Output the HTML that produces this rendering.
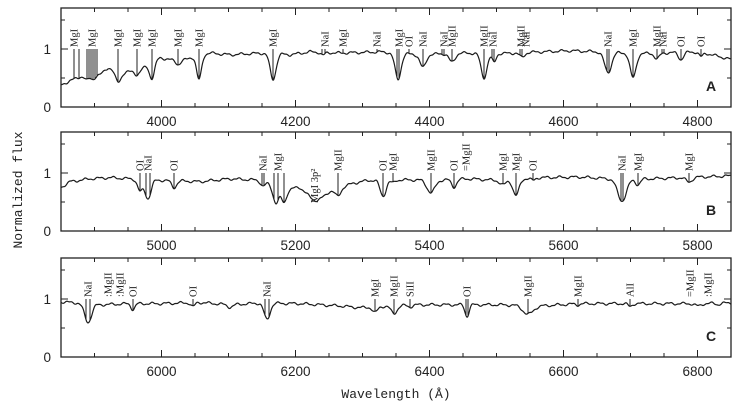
<!DOCTYPE html>
<html><head><meta charset="utf-8"><style>
html,body{margin:0;padding:0;background:#fff;}
svg{display:block;}
.t{font-family:"Liberation Sans",sans-serif;font-size:13.5px;fill:#222;}
.l{font-family:"Liberation Serif",serif;font-size:10.5px;fill:#222;}
</style></head><body>
<svg id="s" width="740" height="407" viewBox="0 0 740 407" xmlns="http://www.w3.org/2000/svg">
<text class="t" x="0" y="0" transform="translate(22,190) rotate(-90)" text-anchor="middle" style="font-family:'Liberation Mono',monospace;font-size:13px">Normalized flux</text>
<text class="t" x="396" y="398" text-anchor="middle" style="font-family:'Liberation Mono',monospace;font-size:13px">Wavelength (Å)</text>
</svg>
<script>
const S=document.getElementById('s');const NS='http://www.w3.org/2000/svg';
function el(n,a,t){const e=document.createElementNS(NS,n);for(const k in a)e.setAttribute(k,a[k]);if(t!==undefined)e.textContent=t;S.appendChild(e);return e;}
const X0=61,X1=731,U=58;
const panels=[
{y0:107,start:3850,name:'A',
cont:[[61,0.38],[70,0.45],[80,0.52],[100,0.55],[108,0.68],[125,0.6],[140,0.62],[147,0.72],[160,0.85],[180,0.78],[195,0.88],[210,0.93],[230,0.9],[250,0.92],[270,0.93],[290,0.9],[310,0.95],[340,0.93],[380,0.95],[420,0.9],[460,0.93],[500,0.92],[540,0.95],[570,0.97],[600,0.95],[640,0.92],[700,0.95],[731,0.82]],
dips:[[87,0.07,2],[93,0.06,2],[118,0.2,3],[137,0.06,2],[152,0.28,2.5],[178,0.05,2],[199,0.42,2.5],[273,0.45,3],[323,0.05,2],[398,0.45,3],[423,0.22,3],[452,0.15,3],[484,0.42,3],[494,0.15,2],[522,0.08,2.5],[608,0.35,3.5],[633,0.42,3],[657,0.1,2.5],[681,0.12,2.5],[701,0.08,2]],
labels:[[74,'MgI',[74,79]],[92,'MgI',[87,89,91,93,95,97]],[118,'MgI',[118]],[137,'MgI',[137]],[152,'MgI',[152]],[178,'MgI',[178]],[199,'MgI',[199]],[273,'MgI',[273]],[325,'NaI',[322,325]],[343,'MgI',[343]],[377,'NaI',[377]],[399,'MgI',[397,399]],[409,'OI',[409]],[423,'NaI',[423]],[444,'NaI',[442,444]],[452,'MgII',[452]],[484,'MgII',[484]],[493,'NaI',[492,494]],[521,'MgII',[520,522]],[526,'NaI',[]],[608,'NaI',[607,609]],[633,'MgI',[633]],[657,'MgII',[657]],[663,'NaI',[662,664]],[681,'OI',[681]],[701,'OI',[701]]]},
{y0:231,start:4850,name:'B',
cont:[[61,0.75],[70,0.85],[90,0.9],[110,0.92],[130,0.9],[150,0.88],[170,0.87],[200,0.85],[230,0.9],[255,0.88],[268,0.82],[290,0.72],[300,0.78],[325,0.7],[345,0.78],[360,0.85],[375,0.88],[400,0.88],[440,0.88],[470,0.9],[500,0.87],[540,0.92],[580,0.93],[610,0.9],[650,0.9],[700,0.93],[731,0.95]],
dips:[[140,0.2,2.5],[148,0.32,3],[174,0.12,2.5],[263,0.07,2],[276,0.3,3],[284,0.25,2.5],[315,0.2,8],[338,0.15,3],[383,0.28,3],[393,0.05,2],[431,0.22,4],[454,0.13,2.5],[503,0.08,3],[516,0.28,3],[533,0.04,2],[622,0.38,4.5],[638,0.1,2.5],[689,0.08,3]],
labels:[[140,'OI',[140]],[148,'NaI',[146,150]],[174,'OI',[174]],[263,'NaI',[262,264]],[278,'MgI',[274,278,284]],[338,'MgII',[338]],[383,'OI',[383]],[393,'MgI',[393]],[431,'MgII',[431]],[454,'OI',[454]],[466,'=MgII',[]],[503,'MgI',[503]],[516,'MgI',[516]],[533,'OI',[533]],[622,'NaI',[621,623]],[638,'MgI',[638]],[689,'MgI',[689]]]},
{y0:357,start:5850,name:'C',
cont:[[61,0.95],[80,0.93],[100,0.9],[130,0.92],[160,0.92],[200,0.94],[230,0.9],[260,0.93],[300,0.92],[340,0.88],[360,0.85],[380,0.87],[420,0.9],[460,0.9],[500,0.9],[540,0.88],[580,0.92],[620,0.92],[660,0.92],[700,0.92],[731,0.93]],
dips:[[88,0.32,3.5],[133,0.1,2],[193,0.07,2],[230,0.04,3],[267,0.28,3],[375,0.1,2.5],[394,0.13,3],[410,0.03,2],[467,0.2,2],[528,0.15,5],[578,0.02,2],[630,0.05,2],[698,0.04,3],[718,0.02,2]],
labels:[[88,'NaI',[86,90]],[108,':MgII',[]],[120,':MgII',[]],[133,'OI',[133]],[193,'OI',[193]],[267,'NaI',[265,269]],[375,'MgI',[375]],[394,'MgII',[394]],[410,'SiII',[410]],[467,'OI',[466,468]],[528,'MgII',[528]],[578,'MgII',[578]],[630,'AlI',[630]],[690,'=MgII',[]],[708,':MgII',[]]]}
];
function contAt(c,x){for(let i=0;i<c.length-1;i++){if(x>=c[i][0]&&x<=c[i+1][0]){const t=(x-c[i][0])/(c[i+1][0]-c[i][0]);return c[i][1]+t*(c[i+1][1]-c[i][1]);}}return c[c.length-1][1];}
panels.forEach((p,pi)=>{
 const y0=p.y0,top=y0-99;
 const f=x=>{let v=contAt(p.cont,x)+0.018*Math.sin(x*0.45+pi)+0.008*Math.sin(x*1.1+2*pi);p.dips.forEach(d=>{v-=d[1]*Math.exp(-0.5*((x-d[0])/d[2])**2);});return v;};
 let d='';for(let x=X0;x<=X1;x+=0.5){d+=(x==X0?'M':'L')+x+','+(y0-f(x)*U).toFixed(1);}
 el('path',{d:d,fill:'none',stroke:'#1a1a1a','stroke-width':1.2});
 el('rect',{x:X0,y:top,width:X1-X0,height:99,fill:'none',stroke:'#222','stroke-width':1.3});
 for(let w=p.start+50;w<p.start+1000;w+=50){const x=X0+(w-p.start)*0.67;const maj=(w%200==0);const L=maj?7:4;
  el('line',{x1:x,y1:y0,x2:x,y2:y0-L,stroke:'#222'});el('line',{x1:x,y1:top,x2:x,y2:top+L,stroke:'#222'});
  if(maj)el('text',{class:'t',x:x,y:y0+19,'text-anchor':'middle'},w);}
 for(const v of [0.5,1,1.5]){const y=y0-v*U;const L=v==1?7:4;el('line',{x1:X0,y1:y,x2:X0+L,y2:y,stroke:'#222'});el('line',{x1:X1,y1:y,x2:X1-L,y2:y,stroke:'#222'});}
 el('text',{class:'t',x:51,y:y0+5,'text-anchor':'end'},'0');
 el('text',{class:'t',x:51,y:y0-U+5,'text-anchor':'end'},'1');
 el('text',{class:'t',x:711,y:y0-16,'text-anchor':'middle',style:'font-weight:bold;font-size:14px'},p.name);
 p.labels.forEach(l=>{const ty=y0-U-2;
  el('text',{class:'l',x:0,y:0,transform:`translate(${l[0]+3.5},${ty}) rotate(-90)`},l[1]);
  l[2].forEach(x=>{el('line',{x1:x,y1:y0-U,x2:x,y2:(y0-f(x)*U).toFixed(1),stroke:'#222','stroke-width':1});});
 });
 if(pi==1){el('text',{class:'l',x:0,y:0,transform:`translate(318,${y0-28}) rotate(-90)`},'MgI 3p²');}
});
</script>
</body></html>
